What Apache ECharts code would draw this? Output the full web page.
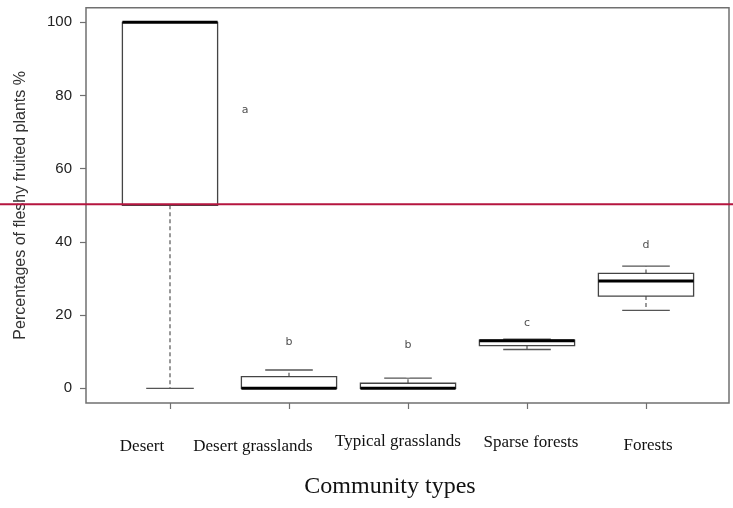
<!DOCTYPE html>
<html>
<head>
<meta charset="utf-8">
<script src="https://cdn.jsdelivr.net/npm/echarts@6/dist/echarts.min.js"></script>
<style>html,body{margin:0;padding:0;background:#fff}#c{width:733px;height:508px}</style>
</head>
<body>
<div id="c"></div>
<script>
// ---- data ----
const categories = ['Desert', 'Desert grasslands', 'Typical grasslands', 'Sparse forests', 'Forests'];
const whiskerLow = [0, 0, 0, 10.6, 21.3];
const q1 = [50, 0, 0, 11.7, 25.2];
const medians = [100, 0, 0, 13.0, 29.3];
const q3 = [100, 3.2, 1.4, 13.2, 31.4];
const whiskerHigh = [100, 5.0, 2.8, 13.4, 33.4];
const outlierCats = [2];
const outlierVals = [4.3];
const letterCats = [0, 1, 2, 3, 4];
const letterVals = [76.0, 12.7, 11.8, 17.9, 39.2];
const letterTexts = ['a', 'b', 'b', 'c', 'd'];
const yTicks = [0, 20, 40, 60, 80, 100];
const refLineValue = 50.3;

// ---- style keyed per category (label nudges) ----
const labelPads = [[5, 56, 0, 0], [5, 72, 0, 0], [0, 20, 0, 0], [1, 0, 0, 8], [4, 0, 0, 4]];
const letterOffsets = [[75, 0], [0, 0], [0, 0], [0, 0], [0, 0]];

const boxData = categories.map((c, i) => [i, whiskerLow[i], q1[i], medians[i], q3[i], whiskerHigh[i]]);
const rich = {};
labelPads.forEach((p, i) => {
  rich['c' + i] = {fontFamily: 'Liberation Serif', fontSize: 17, color: '#111', padding: p};
});

const chart = echarts.init(document.getElementById('c'), null, {renderer: 'canvas'});
const option = {
  animation: false,
  backgroundColor: '#fff',
  grid: [
    {left: 110.5, right: 27.5, top: 7.7, bottom: 105, show: false},
    {left: 86, right: 4, top: 7.7, bottom: 105, show: true, borderColor: '#707070', borderWidth: 1.5, backgroundColor: 'transparent'}
  ],
  xAxis: [
    {
      type: 'category', gridIndex: 0, data: categories, boundaryGap: true,
      axisLine: {show: false, onZero: false},
      axisTick: {show: true, alignWithLabel: true, length: 6, lineStyle: {color: '#707070', width: 1.2}},
      axisLabel: {
        margin: 30, interval: 0,
        formatter: (v, i) => '{c' + i + '|' + v + '}',
        rich: rich
      },
      name: 'Community types', nameLocation: 'middle', nameGap: 72,
      nameTextStyle: {fontFamily: 'Liberation Serif', fontSize: 24, color: '#111', padding: [0, 36, 0, 0]}
    },
    {type: 'value', gridIndex: 1, show: false, min: 0, max: 1}
  ],
  yAxis: [
    {
      type: 'value', gridIndex: 0, min: -4, max: 104,
      position: 'left', offset: 24.5,
      splitLine: {show: false},
      axisLine: {show: false, onZero: false},
      axisTick: {show: true, length: 6, customValues: yTicks, lineStyle: {color: '#707070', width: 1.2}},
      axisLabel: {
        margin: 14, fontFamily: 'Liberation Sans', fontSize: 15, color: '#222',
        customValues: yTicks
      },
      name: 'Percentages of fleshy fruited plants %', nameLocation: 'middle', nameGap: 57, nameRotate: 90,
      nameTextStyle: {fontFamily: 'Liberation Sans', fontSize: 16, color: '#333'}
    },
    {type: 'value', gridIndex: 1, show: false, min: 0, max: 1}
  ],
  series: [
    {
      type: 'custom', xAxisIndex: 0, yAxisIndex: 0,
      data: boxData,
      encode: {x: 0, y: [1, 2, 3, 4, 5]},
      renderItem: function (params, api) {
        const idx = api.value(0);
        const lo = api.coord([idx, api.value(1)]);
        const b1 = api.coord([idx, api.value(2)]);
        const md = api.coord([idx, api.value(3)]);
        const b3 = api.coord([idx, api.value(4)]);
        const hi = api.coord([idx, api.value(5)]);
        const band = api.size([1, 0])[0];
        const bw = band * 0.8;
        const cw = band * 0.4;
        const x = md[0];
        const dash = {stroke: '#555', lineWidth: 1.2, lineDash: [4, 3]};
        const solid = {stroke: '#555', lineWidth: 1.4};
        const children = [];
        if (hi[1] < b3[1] - 0.5) {
          children.push({type: 'line', shape: {x1: x, y1: b3[1], x2: x, y2: hi[1]}, style: dash});
        }
        if (lo[1] > b1[1] + 0.5) {
          children.push({type: 'line', shape: {x1: x, y1: b1[1], x2: x, y2: lo[1]}, style: dash});
        }
        children.push({type: 'line', shape: {x1: x - cw / 2, y1: hi[1], x2: x + cw / 2, y2: hi[1]}, style: solid});
        children.push({type: 'line', shape: {x1: x - cw / 2, y1: lo[1], x2: x + cw / 2, y2: lo[1]}, style: solid});
        children.push({type: 'rect', shape: {x: x - bw / 2, y: b3[1], width: bw, height: Math.max(b1[1] - b3[1], 0.01)},
          style: {fill: '#fff', stroke: '#444', lineWidth: 1.3}});
        children.push({type: 'line', shape: {x1: x - bw / 2, y1: md[1], x2: x + bw / 2, y2: md[1]},
          style: {stroke: '#000', lineWidth: 3}});
        return {type: 'group', children: children};
      },
      z: 3
    },
    {
      type: 'scatter', xAxisIndex: 0, yAxisIndex: 0,
      data: outlierCats.map((c, i) => [c, outlierVals[i]]),
      symbol: 'emptyCircle', symbolSize: 8,
      itemStyle: {color: '#fff', borderColor: '#444', borderWidth: 1.2},
      z: 4
    },
    {
      type: 'scatter', xAxisIndex: 0, yAxisIndex: 0,
      data: letterCats.map((c, i) => ({value: [c, letterVals[i]], label: {offset: letterOffsets[i]}, name: letterTexts[i]})),
      symbolSize: 0,
      label: {show: true, position: 'inside', formatter: p => p.name, fontFamily: 'DejaVu Sans', fontSize: 11, color: '#222'},
      z: 5
    }
  ]
};
chart.setOption(option);
const yRef = chart.convertToPixel({yAxisIndex: 0}, refLineValue);
chart.setOption({
  graphic: [{
    type: 'line', shape: {x1: 0, y1: yRef, x2: 733, y2: yRef},
    style: {stroke: '#b5153f', lineWidth: 2}, z: 100
  }]
});
</script>
</body>
</html>
